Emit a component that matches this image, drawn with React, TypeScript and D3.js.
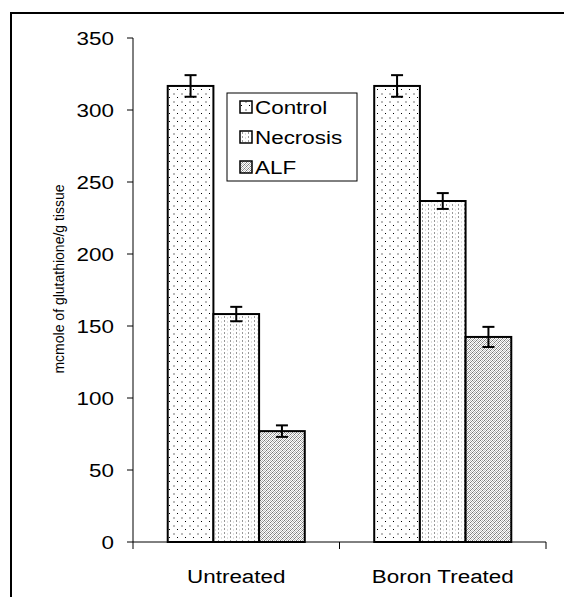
import React from 'react';
import * as d3 from 'd3';

const categories = ['Untreated', 'Boron Treated'];
const seriesNames = ['Control', 'Necrosis', 'ALF'];
const controlValues = [316.7, 316.7];
const necrosisValues = [158.3, 236.8];
const alfValues = [77, 142.4];
const controlErrors = [7.5, 7.5];
const necrosisErrors = [5, 5.5];
const alfErrors = [4, 7];
const yTicks = [0, 50, 100, 150, 200, 250, 300, 350];

const W = 564;
const H = 597;
const margin = { top: 38, right: 18, bottom: 55, left: 133 };
const font = 'Arial, "Liberation Sans", Helvetica, sans-serif';
const sx = 1.18; // text in the reference is stretched horizontally

const Txt = ({ x, y, anchor = 'start', size = 19, children }: any) => (
  <text transform={`translate(${x},${y}) scale(${sx},1)`} textAnchor={anchor}
    fontSize={size} fontFamily={font} fill="#000">{children}</text>
);

const App = () => {
  const plotH = H - margin.top - margin.bottom;
  const x = d3.scaleBand().domain(categories).range([margin.left, W - margin.right]);
  const xs = d3.scaleBand().domain(seriesNames).range([0, x.bandwidth()]).paddingOuter(0.76);
  const y = d3.scaleLinear().domain([0, 350]).range([margin.top + plotH, margin.top]);

  const series = [
    { name: 'Control', values: controlValues, errors: controlErrors, fill: 'url(#pControl)' },
    { name: 'Necrosis', values: necrosisValues, errors: necrosisErrors, fill: 'url(#pNecrosis)' },
    { name: 'ALF', values: alfValues, errors: alfErrors, fill: 'url(#pALF)' },
  ];

  const x0 = margin.left;
  const x1 = W - margin.right;
  const yBase = y(0);

  return (
    <svg width={W} height={H} style={{ position: 'absolute', left: 0, top: 0 }}>
      <defs>
        <pattern id="pControl" width="8" height="8" patternUnits="userSpaceOnUse">
          <rect width="8" height="8" fill="#fff" />
          <rect x="1" y="1" width="1" height="1" fill="#000" />
          <rect x="5" y="5" width="2" height="2" fill="#bbb" />
        </pattern>
        <pattern id="pNecrosis" width="6" height="4" patternUnits="userSpaceOnUse">
          <rect width="6" height="4" fill="#fff" />
          <rect x="2" y="0" width="1" height="2" fill="#999" />
          <rect x="5" y="1" width="1" height="2" fill="#ddd" />
        </pattern>
        <pattern id="pALF" width="4" height="4" patternUnits="userSpaceOnUse">
          <rect width="4" height="4" fill="#fff" />
          <rect x="0" y="0" width="1" height="1" fill="#777" />
          <rect x="2" y="0" width="1" height="1" fill="#bbb" />
          <rect x="1" y="1" width="1" height="1" fill="#aaa" />
          <rect x="3" y="1" width="1" height="1" fill="#888" />
          <rect x="0" y="2" width="1" height="1" fill="#ccc" />
          <rect x="2" y="2" width="1" height="1" fill="#777" />
          <rect x="1" y="3" width="1" height="1" fill="#999" />
          <rect x="3" y="3" width="1" height="1" fill="#bbb" />
        </pattern>
      </defs>

      {/* outer frame */}
      <rect x={11} y={13} width={W} height={H} fill="none" stroke="#000" strokeWidth={2} />

      {/* bars */}
      {series.map(s =>
        categories.map((c, i) => {
          const bx = (x(c) as number) + (xs(s.name) as number);
          return (
            <rect key={s.name + c} x={bx} y={y(s.values[i])} width={xs.bandwidth()}
              height={yBase - y(s.values[i])} fill={s.fill} stroke="#000" strokeWidth={2} />
          );
        })
      )}

      {/* error bars */}
      {series.map(s =>
        categories.map((c, i) => {
          const cx = (x(c) as number) + (xs(s.name) as number) + xs.bandwidth() / 2;
          const hi = y(s.values[i] + s.errors[i]);
          const lo = y(s.values[i] - s.errors[i]);
          return (
            <g key={'e' + s.name + c} stroke="#000" strokeWidth={2}>
              <line x1={cx} x2={cx} y1={hi} y2={lo} />
              <line x1={cx - 6} x2={cx + 6} y1={hi} y2={hi} />
              <line x1={cx - 6} x2={cx + 6} y1={lo} y2={lo} />
            </g>
          );
        })
      )}

      {/* y axis */}
      <line x1={x0} x2={x0} y1={y(350)} y2={yBase + 7} stroke="#000" strokeWidth={1} />
      {yTicks.map(t => (
        <g key={t}>
          <line x1={x0 - 6} x2={x0} y1={y(t)} y2={y(t)} stroke="#000" />
          <Txt x={x0 - 19} y={y(t) + 7} anchor="end">{t}</Txt>
        </g>
      ))}

      {/* x axis */}
      <line x1={x0} x2={x1} y1={yBase} y2={yBase} stroke="#000" strokeWidth={1} />
      {categories.map(c => (
        <g key={c}>
          <line x1={(x(c) as number) + x.bandwidth()} x2={(x(c) as number) + x.bandwidth()} y1={yBase} y2={yBase + 7} stroke="#000" />
          <Txt x={(x(c) as number) + x.bandwidth() / 2} y={yBase + 41} anchor="middle">{c}</Txt>
        </g>
      ))}

      {/* y label */}
      <text transform={`translate(64, 279) rotate(-90)`} textAnchor="middle"
        fontSize={14} fontFamily={font}>mcmole of glutathione/g tissue</text>

      {/* legend */}
      <rect x={227} y={93} width={130} height={88} fill="#fff" stroke="#000" strokeWidth={1} />
      {series.map((s, i) => (
        <g key={'l' + s.name}>
          <rect x={240} y={101 + i * 30} width={12} height={12} fill={s.fill} stroke="#000" strokeWidth={1.5} />
          <Txt x={255} y={114 + i * 30}>{s.name}</Txt>
        </g>
      ))}
    </svg>
  );
};

export default App;
